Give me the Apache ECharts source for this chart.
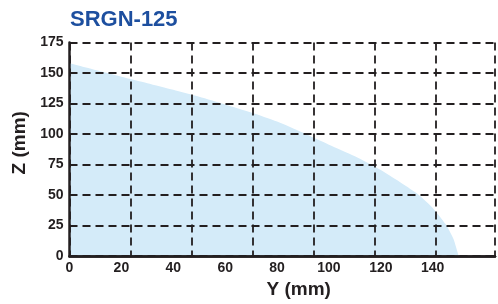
<!DOCTYPE html>
<html>
<head>
<meta charset="utf-8">
<script src="https://cdn.jsdelivr.net/npm/echarts@6/dist/echarts.min.js"></script>
<style>
  html, body { margin: 0; padding: 0; background: #fff; }
  #chart { width: 498px; height: 304px; }
</style>
</head>
<body>
<div id="chart"></div>
<script>
  // envelope of the working range
  var curveY = [0, 10, 20, 30, 40, 50, 60, 70, 80, 90, 100, 110, 120, 130, 135, 140, 145, 148, 150];
  var curveZ = [158, 152.5, 147, 141.7, 136.2, 130.5, 124.2, 117.6, 110.2, 101, 91.3, 81.8, 70.5, 57, 49.5, 39.5, 26, 14, 0];
  var zTicks = [0, 25, 50, 75, 100, 125, 150, 175];
  var yTicks = [0, 20, 40, 60, 80, 100, 120, 140];

  var ink = "#231f20";
  var dash = { color: ink, width: 1.8, type: [8, 5] };

  var points = curveY.map(function(y, i) {
    return [y, curveZ[i]];
  });

  var myChart = echarts.init(document.getElementById("chart"));
  myChart.setOption({
    animation: false,
    title: {
      text: "SRGN-125",
      left: 65,
      top: 4,
      textStyle: {
        color: "#1d4f9f",
        fontSize: 22,
        fontWeight: "bold",
        fontFamily: "Liberation Sans"
      }
    },
    grid: { left: 69.5, right: 0.7, top: 42.5, bottom: 47.3 },
    xAxis: [
      {
        type: "value",
        min: 0,
        max: 164,
        interval: 20,
        position: "bottom",
        z: 5,
        name: "Y (mm)",
        nameLocation: "middle",
        nameGap: 23,
        nameTextStyle: {
          color: ink,
          fontSize: 19,
          fontWeight: "bold",
          fontFamily: "Liberation Sans",
          padding: [0, 0, 0, 33]
        },
        axisLine: { show: true, lineStyle: { color: ink, width: 2.5 } },
        axisTick: { show: false },
        axisLabel: {
          margin: 5,
          color: ink,
          fontSize: 14,
          fontWeight: "bold",
          fontFamily: "Liberation Sans",
          formatter: function(v) {
            return yTicks.indexOf(v) >= 0 ? String(v) : "";
          }
        },
        splitLine: { show: false }
      },
      {
        // grid columns of the original do not follow the mm labels
        type: "value",
        min: 0,
        max: 6.97,
        interval: 1,
        position: "top",
        z: 5,
        axisLine: { show: true, lineStyle: { color: ink, width: 2.5 } },
        axisTick: { show: false },
        axisLabel: { show: false },
        splitLine: { show: true, lineStyle: dash }
      }
    ],
    yAxis: [
      {
        type: "value",
        min: 0,
        max: 175,
        interval: 25,
        position: "left",
        z: 5,
        name: "Z (mm)",
        nameLocation: "middle",
        nameGap: 35,
        nameTextStyle: {
          color: ink,
          fontSize: 19,
          fontWeight: "bold",
          fontFamily: "Liberation Sans",
          padding: [0, 0, 0, 13]
        },
        axisLine: { show: true, lineStyle: { color: ink, width: 2.5 } },
        axisTick: { show: false },
        axisLabel: {
          margin: 6,
          color: ink,
          fontSize: 14,
          fontWeight: "bold",
          fontFamily: "Liberation Sans",
          formatter: function(v) {
            return zTicks.indexOf(v) >= 0 ? String(v) : "";
          }
        },
        splitLine: { show: true, lineStyle: dash }
      },
      {
        type: "value",
        min: 0,
        max: 175,
        position: "right",
        z: 5,
        axisLine: { show: true, lineStyle: { color: ink, width: 1 } },
        axisTick: { show: false },
        axisLabel: { show: false },
        splitLine: { show: false }
      }
    ],
    series: [
      {
        type: "line",
        xAxisIndex: 0,
        yAxisIndex: 0,
        data: points,
        smooth: 0.2,
        symbol: "none",
        lineStyle: { width: 0 },
        areaStyle: { color: "#d4ebf9", opacity: 1 },
        z: 1
      }
    ]
  });
</script>
</body>
</html>
